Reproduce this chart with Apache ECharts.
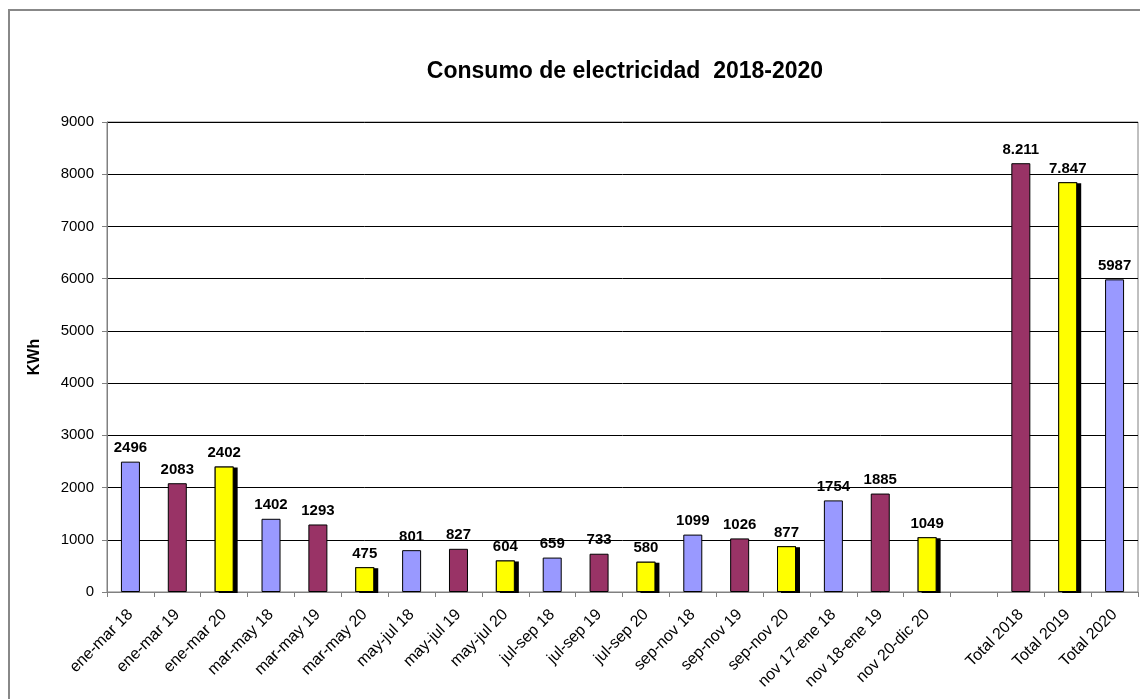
<!DOCTYPE html>
<html><head><meta charset="utf-8">
<script src="https://cdn.jsdelivr.net/npm/echarts@6/dist/echarts.min.js"></script>
<style>html,body{margin:0;padding:0;background:#fff}#c{width:1140px;height:699px}</style>
</head><body><div id="c"></div>
<script>
const categories = ['ene-mar 18','ene-mar 19','ene-mar 20','mar-may 18','mar-may 19','mar-may 20','may-jul 18','may-jul 19','may-jul 20','jul-sep 18','jul-sep 19','jul-sep 20','sep-nov 18','sep-nov 19','sep-nov 20','nov 17-ene 18','nov 18-ene 19','nov 20-dic 20','','Total 2018','Total 2019','Total 2020'];
const values = [2496,2083,2402,1402,1293,475,801,827,604,659,733,580,1099,1026,877,1754,1885,1049,null,8211,7847,5987];
const valueLabels = ['2496','2083','2402','1402','1293','475','801','827','604','659','733','580','1099','1026','877','1754','1885','1049','','8.211','7.847','5987'];
const years = ['18','19','20','18','19','20','18','19','20','18','19','20','18','19','20','18','19','20','','19','20','18'];
const yTicks = [0,1000,2000,3000,4000,5000,6000,7000,8000,9000];

const colorOf = {'18':'#9999FF','19':'#993366','20':'#FFFF00'};
const mainData = values.map((v,i)=> v === null ? {value:null} :
  {value:v, itemStyle:{color:colorOf[years[i]], borderColor:'#000', borderWidth:1}});
const shadowData = values.map((v,i)=> (v !== null && years[i] === '20') ? v : null);

const font = 'Liberation Sans, Arial, sans-serif';
const chart = echarts.init(document.getElementById('c'), null, {renderer:'canvas'});
chart.setOption({
  animation:false,
  backgroundColor:'#fff',
  title:{text:'Consumo de electricidad  2018-2020', left:620, top:55, textAlign:'center',
    textStyle:{fontFamily:font, fontSize:23, fontWeight:'bold', color:'#000'}},
  graphic:[{type:'rect', shape:{x:9,y:10,width:1140,height:700}, style:{fill:'none', stroke:'#888', lineWidth:2}, silent:true}],
  grid:{left:107, right:2, top:122, bottom:107, containLabel:false, show:true, borderColor:'#808080', borderWidth:1},
  xAxis:{type:'category', data:categories,
    axisLine:{lineStyle:{color:'#808080', width:1}},
    axisTick:{show:true, alignWithLabel:false, length:5, lineStyle:{color:'#808080'}},
    axisLabel:{rotate:45, interval:0, fontFamily:font, fontSize:16, color:'#000', margin:20}},
  yAxis:{type:'value', min:0, max:9000, interval:1000,
    name:'KWh', nameLocation:'middle', nameGap:64, nameRotate:90,
    nameTextStyle:{fontFamily:font, fontSize:16, fontWeight:'bold', color:'#000'},
    axisLine:{show:true, lineStyle:{color:'#808080'}},
    axisTick:{show:true, length:5, lineStyle:{color:'#808080'}},
    axisLabel:{fontFamily:font, fontSize:15, color:'#000', margin:13, formatter:(v)=>String(v)},
    splitLine:{show:true, lineStyle:{color:'#000', width:1}}},
  series:[
    {type:'bar', data:shadowData, barWidth:19, barGap:'-100%', z:1, silent:true,
      itemStyle:{color:'#000', shadowColor:'#000', shadowOffsetX:4, shadowOffsetY:1, shadowBlur:0}},
    {type:'bar', data:mainData, barWidth:19, barGap:'-100%', z:2,
      label:{show:true, position:'top', distance:6, fontFamily:font, fontSize:15, fontWeight:'bold', color:'#000',
        formatter:(p)=>valueLabels[p.dataIndex]}}]
});
</script></body></html>
